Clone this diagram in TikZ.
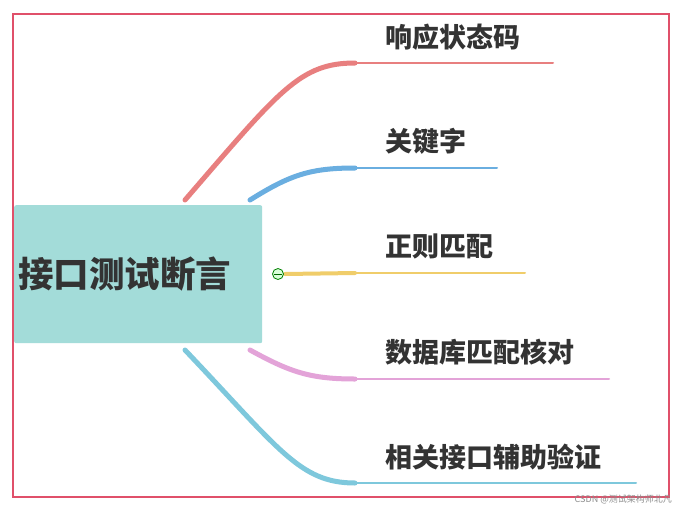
\documentclass[tikz,border=0pt]{standalone}
\usepackage{fontspec}
\newfontfamily\cjk{Noto Sans CJK SC}
\begin{document}
\begin{tikzpicture}[x=1pt,y=-1pt,
  lbl/.style={anchor=west,font=\cjk\bfseries\fontsize{27}{29}\selectfont,text=black!80,inner sep=0},
  br/.style={line cap=round}]
\useasboundingbox[fill=white] (0,0) rectangle (683,512);
\definecolor{cr}{HTML}{E87F7F}\definecolor{cb}{HTML}{6AAEE0}\definecolor{cy}{HTML}{F0CD6A}
\definecolor{cp}{HTML}{E3A3D8}\definecolor{cl}{HTML}{7EC8DC}\definecolor{teal}{HTML}{A3DCD9}
\definecolor{frame}{HTML}{E0506A}
\draw[frame,line width=1.5pt] (13,14) rectangle (669,497);
% branches
\coordinate (r0) at (185,200);\coordinate (r1) at (355,63);\coordinate (r2) at (553,63);
\draw[br,cr,line width=5] (r0) .. controls (280,90) and (300,63) .. (r1);
\draw[br,cr,line width=2] (r1) -- (r2);
\coordinate (b0) at (250,200);\coordinate (b1) at (355,168);\coordinate (b2) at (497,168);
\draw[br,cb,line width=5] (b0) .. controls (290,175) and (310,168) .. (b1);
\draw[br,cb,line width=2] (b1) -- (b2);
\coordinate (y0) at (285,274);\coordinate (y1) at (355,273);\coordinate (y2) at (525,273);
\draw[br,cy,line width=4] (y0) -- (y1);
\draw[br,cy,line width=2] (y1) -- (y2);
\coordinate (p0) at (250,350);\coordinate (p1) at (355,379);\coordinate (p2) at (609,379);
\draw[br,cp,line width=5] (p0) .. controls (290,372) and (310,379) .. (p1);
\draw[br,cp,line width=2] (p1) -- (p2);
\coordinate (l0) at (185,350);\coordinate (l1) at (355,483);\coordinate (l2) at (636,483);
\draw[br,cl,line width=5] (l0) .. controls (280,450) and (300,483) .. (l1);
\draw[br,cl,line width=2] (l1) -- (l2);
% center
\node[fill=teal,rounded corners=2pt,minimum width=248,minimum height=138,inner sep=0,anchor=north west] (c) at (14,205) {};
\node[anchor=west,font=\cjk\bfseries\fontsize{35.5}{37}\selectfont,text=black!80,inner sep=0] (ct) at (18,274) {接口测试断言};
\node[circle,draw=green!50!black,fill=green!15,line width=0.8pt,minimum size=11,inner sep=0] (m) at (278,274) {};
\draw[green!40!black,line width=0.8] (274,274) -- (282,274);
% labels
\node[lbl] (t1) at (385,37) {响应状态码};
\node[lbl] (t2) at (385,141) {关键字};
\node[lbl] (t3) at (385,246) {正则匹配};
\node[lbl] (t4) at (385,352) {数据库匹配核对};
\node[lbl] (t5) at (385,457) {相关接口辅助验证};
\node[anchor=east,font=\cjk\fontsize{9}{10}\selectfont,text=black!45,inner sep=0] (wm) at (672,499) {CSDN @测试架构师北凡};
\end{tikzpicture}
\end{document}
